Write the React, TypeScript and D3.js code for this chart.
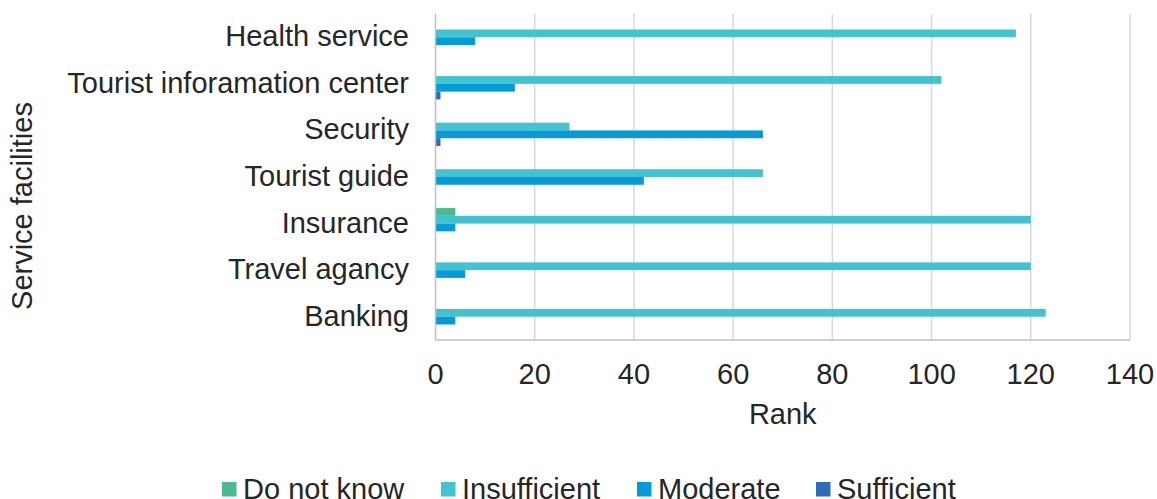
import React, { useEffect, useRef } from 'react';
import * as d3 from 'd3';

// category labels, top to bottom
const categories = [
  'Health service',
  'Tourist inforamation center',
  'Security',
  'Tourist guide',
  'Insurance',
  'Travel agancy',
  'Banking',
];

const seriesNames = ['Do not know', 'Insufficient', 'Moderate', 'Sufficient'];
const seriesColors = ['#4bbb8f', '#42c3cf', '#049bd8', '#2c6cb8'];

// values per series, same order as categories
const doNotKnow = [0, 0, 0, 0, 4, 0, 0];
const insufficient = [117, 102, 27, 66, 120, 120, 123];
const moderate = [8, 16, 66, 42, 4, 6, 4];
const sufficient = [0, 1, 1, 0, 0, 0, 0];

const xTicks = [0, 20, 40, 60, 80, 100, 120, 140];

const W = 1157;
const H = 499;
const FONT = '"Liberation Sans", Arial, sans-serif';

const App: React.FC = () => {
  const svgRef = useRef<SVGSVGElement>(null);

  useEffect(() => {
    if (!svgRef.current) return;
    const svg = d3.select(svgRef.current);
    svg.selectAll('*').remove();

    const series = [doNotKnow, insufficient, moderate, sufficient];

    const x = d3.scaleLinear().domain([0, 140]).range([435.5, 1130]);
    const y = d3.scaleBand<string>()
      .domain(categories)
      .range([14, 340])
      .paddingInner(1 / 3)
      .paddingOuter(1 / 6);
    const ySub = d3.scaleBand<number>()
      .domain(d3.range(seriesNames.length))
      .range([0, y.bandwidth()]);

    // gridlines
    svg.append('g')
      .selectAll('line')
      .data(xTicks.slice(1))
      .enter()
      .append('line')
      .attr('x1', d => x(d))
      .attr('x2', d => x(d))
      .attr('y1', 14)
      .attr('y2', 340)
      .attr('stroke', '#d9d9d9')
      .attr('stroke-width', 1.5);

    // bars
    const groups = svg.append('g')
      .selectAll('g')
      .data(categories)
      .enter()
      .append('g')
      .attr('transform', d => `translate(0,${y(d)})`);

    groups.selectAll('rect')
      .data((c, ci) => series.map((s, si) => ({ si, v: s[ci] })))
      .enter()
      .filter(d => d.v > 0)
      .append('rect')
      .attr('x', x(0))
      .attr('y', d => ySub(d.si)!)
      .attr('width', d => x(d.v) - x(0))
      .attr('height', ySub.bandwidth())
      .attr('fill', d => seriesColors[d.si]);

    // axis lines
    svg.append('line')
      .attr('x1', x(0)).attr('x2', x(0))
      .attr('y1', 14).attr('y2', 340)
      .attr('stroke', '#bfbfbf').attr('stroke-width', 1.5);
    svg.append('line')
      .attr('x1', x(0)).attr('x2', x(140))
      .attr('y1', 340).attr('y2', 340)
      .attr('stroke', '#bfbfbf').attr('stroke-width', 1.5);

    // category labels
    svg.append('g')
      .selectAll('text')
      .data(categories)
      .enter()
      .append('text')
      .attr('x', 409)
      .attr('y', d => y(d)! + y.bandwidth() / 2 + 9)
      .attr('text-anchor', 'end')
      .style('font-family', FONT)
      .style('font-size', '29px')
      .style('fill', '#262626')
      .text(d => d);

    // tick labels
    svg.append('g')
      .selectAll('text')
      .data(xTicks)
      .enter()
      .append('text')
      .attr('x', d => x(d))
      .attr('y', 384)
      .attr('text-anchor', 'middle')
      .style('font-family', FONT)
      .style('font-size', '29px')
      .style('fill', '#262626')
      .text(d => d);

    // axis titles
    svg.append('text')
      .attr('x', (x(0) + x(140)) / 2)
      .attr('y', 424)
      .attr('text-anchor', 'middle')
      .style('font-family', FONT)
      .style('font-size', '29px')
      .style('fill', '#262626')
      .text('Rank');

    svg.append('text')
      .attr('transform', 'translate(32,206) rotate(-90)')
      .attr('text-anchor', 'middle')
      .style('font-family', FONT)
      .style('font-size', '29px')
      .style('fill', '#262626')
      .text('Service facilities');

    // legend
    const legendX = [222, 441, 637, 816];
    const legend = svg.append('g')
      .selectAll('g')
      .data(seriesNames)
      .enter()
      .append('g')
      .attr('transform', (d, i) => `translate(${legendX[i]},0)`);
    legend.append('rect')
      .attr('x', 0)
      .attr('y', 482)
      .attr('width', 14.5)
      .attr('height', 14.5)
      .attr('fill', (d, i) => seriesColors[i]);
    legend.append('text')
      .attr('x', 21)
      .attr('y', 499)
      .style('font-family', FONT)
      .style('font-size', '29px')
      .style('fill', '#262626')
      .text(d => d);
  }, []);

  return (
    <svg
      ref={svgRef}
      width={W}
      height={H}
      style={{ position: 'absolute', left: 0, top: 0, background: '#fff' }}
    />
  );
};

export default App;
